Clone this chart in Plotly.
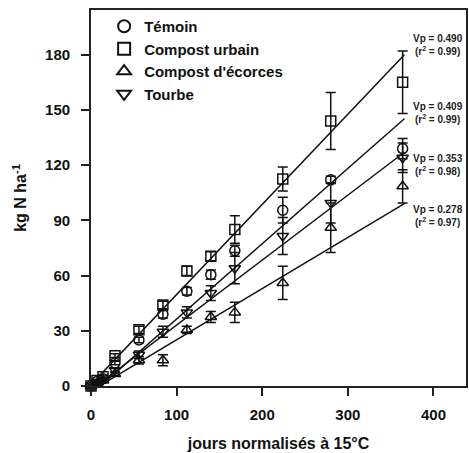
import plotly.graph_objects as go

# ---- data ----
days = [0, 7, 14, 28, 56, 84, 112, 140, 168, 224, 280, 364]

series_names = ["Témoin", "Compost urbain", "Compost d'écorces", "Tourbe"]

temoin = [0, 2.5, 4, 12.5, 25, 39, 51.5, 60.5, 73.5, 95.5, 112, 129]
temoin_err = [0, 0.5, 0.5, 1, 1.5, 2, 2, 2.5, 3, 7, 2, 5.5]

urbain = [0, 3, 5, 16.5, 30.5, 44, 62.5, 70.5, 85, 112.5, 144, 165]
urbain_err = [0, 0.5, 1, 1, 2, 2, 2.5, 2.5, 7.5, 6.5, 15.5, 17]

ecorces = [0, 1.5, 3, 6.5, 14, 14, 30.5, 37.5, 40, 56, 86, 108.5]
ecorces_err = [0, 0.5, 0.5, 1, 2, 3, 2, 3, 5.5, 9, 13.5, 9]

tourbe = [0, 2, 3.5, 8.5, 17, 29.5, 40, 50.5, 64, 81.5, 99.5, 124]
tourbe_err = [0, 0.5, 0.5, 1, 2, 3, 3, 4, 8.5, 10, 11, 8]

# regression lines: slope (Vp), intercept, r²
vp = [0.409, 0.490, 0.278, 0.353]
intercepts = [-4.5, 0.7, -2.7, -2.2]
r2 = [0.99, 0.99, 0.97, 0.98]
fit_x = [0, 366]

x_ticks = [0, 100, 200, 300, 400]
y_ticks = [0, 30, 60, 90, 120, 150, 180]

# ---- styling ----
values = [temoin, urbain, ecorces, tourbe]
errors = [temoin_err, urbain_err, ecorces_err, tourbe_err]
symbols = ["circle-open", "square-open", "triangle-up-open", "triangle-down-open"]
label_offsets = [3, 5, -6.5, -7]  # label vertical offset from line end

FONT = "Liberation Sans, Arial, sans-serif"
INK = "#111111"

fig = go.Figure()

# fitted lines
for i in range(4):
    ys = [vp[i] * x + intercepts[i] for x in fit_x]
    fig.add_trace(go.Scatter(
        x=fit_x, y=ys, mode="lines",
        line=dict(color=INK, width=1.5),
        showlegend=False, hoverinfo="skip",
    ))

# data points with error bars
for i in range(4):
    fig.add_trace(go.Scatter(
        x=days, y=values[i], mode="markers", name=series_names[i],
        marker=dict(symbol=symbols[i], size=10, color=INK,
                    line=dict(width=1.5, color=INK)),
        error_y=dict(type="data", array=errors[i], visible=True,
                     color=INK, thickness=1.5, width=5),
        cliponaxis=False,
    ))

# Vp labels
for i in range(4):
    y_end = vp[i] * fit_x[1] + intercepts[i]
    fig.add_annotation(
        x=fit_x[1] + 8, y=y_end + label_offsets[i], xref="x", yref="y",
        text=f"Vp = {vp[i]:.3f}<br>(r<sup>2</sup> = {r2[i]:.2f})",
        showarrow=False, xanchor="left", yanchor="middle", align="center",
        font=dict(family=FONT, size=10, color="#222222", weight="bold"),
    )

axis_common = dict(
    showline=True, linecolor="#222222", linewidth=1.8, mirror=True,
    ticks="outside", ticklen=8, tickwidth=1.5, tickcolor="#222222",
    showgrid=False, zeroline=False, automargin=False,
    tickfont=dict(family=FONT, size=15, color=INK, weight="bold"),
)

fig.update_layout(
    width=469, height=453,
    margin=dict(l=91, r=3, t=10, b=67),
    paper_bgcolor="white", plot_bgcolor="white",
    showlegend=True,
    legend=dict(
        x=0.035, y=1.0, xanchor="left", yanchor="top",
        bgcolor="rgba(0,0,0,0)", borderwidth=0,
        font=dict(family=FONT, size=15, color=INK, weight="bold"),
        tracegroupgap=0, itemsizing="constant",
    ),
    xaxis=dict(
        range=[0, 438], tickvals=x_ticks,
        title=dict(text="jours normalisés à 15°C", standoff=16,
                   font=dict(family=FONT, size=16, color=INK, weight="bold")),
        ticklabelstandoff=6,
        **axis_common,
    ),
    yaxis=dict(
        range=[0, 204.3], tickvals=y_ticks,
        title=dict(text="kg N ha<sup>-1</sup>", standoff=14,
                   font=dict(family=FONT, size=16, color=INK, weight="bold")),
        ticklabelstandoff=8,
        **axis_common,
    ),
)

# remove the page's default body margin so the figure fills the window exactly
fig.write_html(
    "out.html",
    config={"displayModeBar": False},
    post_script="document.body.style.margin='0';document.body.style.overflow='hidden';",
)
